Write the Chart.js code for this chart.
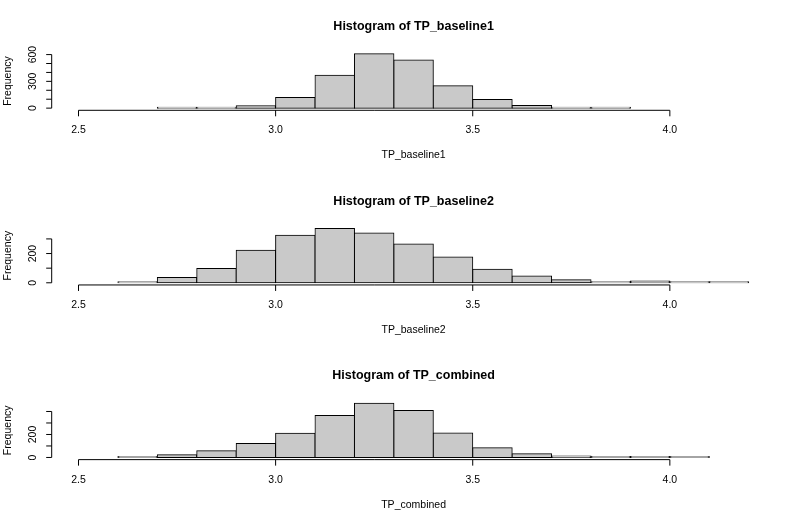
<!DOCTYPE html>
<html>
<head>
<meta charset="utf-8">
<script src="https://cdn.jsdelivr.net/npm/chart.js@4/dist/chart.umd.min.js"></script>
<style>
  body { margin: 0; background: #fff; }
  canvas { position: absolute; left: 0; }
</style>
</head>
<body>
<canvas id="h1" width="802" height="175" style="top:0px"></canvas>
<canvas id="h2" width="802" height="175" style="top:175px"></canvas>
<canvas id="h3" width="802" height="175" style="top:349px"></canvas>
<script>
// histogram bins (edges) and counts
const edges1 = [2.7, 2.8, 2.9, 3.0, 3.1, 3.2, 3.3, 3.4, 3.5, 3.6, 3.7, 3.8, 3.9];
const counts1 = [6, 4, 28, 118, 368, 608, 538, 252, 97, 30, 8, 5];

const edges2 = [2.6, 2.7, 2.8, 2.9, 3.0, 3.1, 3.2, 3.3, 3.4, 3.5, 3.6, 3.7, 3.8, 3.9, 4.0, 4.1, 4.2];
const counts2 = [6, 37, 98, 222, 325, 371, 341, 266, 176, 92, 46, 21, 7, 12, 3, 1];

const edges3 = [2.6, 2.7, 2.8, 2.9, 3.0, 3.1, 3.2, 3.3, 3.4, 3.5, 3.6, 3.7, 3.8, 3.9, 4.0, 4.1];
const counts3 = [8, 23, 58, 122, 210, 364, 472, 408, 213, 85, 32, 12, 3, 6, 2];

const xLim = [2.5, 4.2];
const xTicks = [2.5, 3.0, 3.5, 4.0];
const xTickLabels = ["2.5", "3.0", "3.5", "4.0"];

const yTicks1 = [0, 100, 200, 300, 400, 500, 600];
const yLabelVals1 = [0, 300, 600];
const yTicks2 = [0, 100, 200, 300];
const yLabelVals2 = [0, 200];
const yTicks3 = [0, 100, 200, 300, 400];
const yLabelVals3 = [0, 200];

const titles = ["Histogram of TP_baseline1", "Histogram of TP_baseline2", "Histogram of TP_combined"];
const xNames = ["TP_baseline1", "TP_baseline2", "TP_combined"];

const FONT = '"Liberation Sans", Arial, Helvetica, sans-serif';
const FIG_H = 524 / 3;

// R style axes + text, drawn from the chart's scales
function rAxes(o) {
  return {
    id: "rAxes",
    afterDraw(chart) {
      const { ctx, chartArea: a, scales: { x, y } } = chart;
      ctx.save();
      ctx.strokeStyle = "#000";
      ctx.fillStyle = "#000";
      ctx.lineWidth = 1;
      ctx.beginPath();
      const xb = a.bottom;
      ctx.moveTo(x.getPixelForValue(xTicks[0]), xb);
      ctx.lineTo(x.getPixelForValue(xTicks[xTicks.length - 1]), xb);
      xTicks.forEach(v => {
        const px = x.getPixelForValue(v);
        ctx.moveTo(px, xb);
        ctx.lineTo(px, xb + 6);
      });
      const yt = o.yTicks;
      ctx.moveTo(a.left, y.getPixelForValue(yt[0]));
      ctx.lineTo(a.left, y.getPixelForValue(yt[yt.length - 1]));
      yt.forEach(v => {
        const py = y.getPixelForValue(v);
        ctx.moveTo(a.left, py);
        ctx.lineTo(a.left - 5.5, py);
      });
      ctx.stroke();

      ctx.font = "10.5px " + FONT;
      ctx.textAlign = "center";
      ctx.textBaseline = "alphabetic";
      xTicks.forEach((v, i) => ctx.fillText(xTickLabels[i], x.getPixelForValue(v), xb + 23));
      ctx.fillText(o.xName, (a.left + a.right) / 2, xb + 48);

      o.yLabels.forEach(v => {
        ctx.save();
        ctx.translate(a.left - 15.5, y.getPixelForValue(v));
        ctx.rotate(-Math.PI / 2);
        ctx.fillText(String(v), 0, 0);
        ctx.restore();
      });
      ctx.save();
      ctx.translate(10.5, (a.top + a.bottom) / 2);
      ctx.rotate(-Math.PI / 2);
      ctx.fillText("Frequency", 0, 0);
      ctx.restore();

      ctx.font = "bold 12.5px " + FONT;
      ctx.fillText(o.title, (a.left + a.right) / 2, a.top - 21.7);
      ctx.restore();
    }
  };
}

function makeHist(id, idx, edges, counts, yTicks, yLabels) {
  const canvas = document.getElementById(id);
  const shift = idx * FIG_H - parseFloat(canvas.style.top);
  const ymax = Math.max(...counts);
  const span = xLim[1] - xLim[0];
  const top = 51.7 + shift;
  const bottom = 175 - top - 58.6;
  const pts = counts.map((c, i) => ({ x: (edges[i] + edges[i + 1]) / 2, y: c }));
  new Chart(canvas, {
    type: "bar",
    data: {
      datasets: [{
        data: pts,
        backgroundColor: "#c9c9c9",
        borderColor: "#000",
        borderWidth: 1,
        borderSkipped: false,
        inflateAmount: 0.5,
        minBarLength: 1,
        barPercentage: 1,
        categoryPercentage: 1
      }]
    },
    options: {
      responsive: false,
      animation: false,
      layout: { padding: { left: 51.7, right: 26.5, top: top, bottom: bottom } },
      plugins: { legend: { display: false }, tooltip: { enabled: false } },
      scales: {
        x: {
          type: "linear", display: false, offset: false,
          min: xLim[0] - 0.04 * span, max: xLim[1] + 0.04 * span,
          afterBuildTicks: s => { s.ticks = xTicks.map(v => ({ value: v })); }
        },
        y: {
          display: false,
          min: -0.04 * ymax, max: 1.04 * ymax
        }
      }
    },
    plugins: [rAxes({ yTicks, yLabels, title: titles[idx], xName: xNames[idx] })]
  });
}

makeHist("h1", 0, edges1, counts1, yTicks1, yLabelVals1);
makeHist("h2", 1, edges2, counts2, yTicks2, yLabelVals2);
makeHist("h3", 2, edges3, counts3, yTicks3, yLabelVals3);
</script>
</body>
</html>
